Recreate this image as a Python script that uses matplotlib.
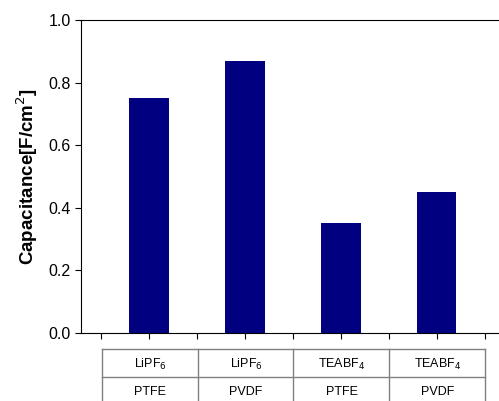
import matplotlib.pyplot as plt

plt.rcParams["font.family"] = ["Liberation Sans", "DejaVu Sans"]

electrolytes = ["LiPF$_6$", "LiPF$_6$", "TEABF$_4$", "TEABF$_4$"]
binders = ["PTFE", "PVDF", "PTFE", "PVDF"]
capacitance = [0.75, 0.87, 0.35, 0.45]
yticks = [0.0, 0.2, 0.4, 0.6, 0.8, 1.0]


def main():
    fig = plt.figure(figsize=(4.99, 4.01), dpi=100)
    W, H = 499, 401
    ax = fig.add_axes([81 / W, 1 - 333 / H, 1 - 81 / W + 0.01, 313 / H])

    x = range(len(capacitance))
    ax.bar(x, capacitance, width=0.41, color="#000080")
    ax.set_xlim(-0.708, 3.70)
    ax.set_ylim(0, 1.0)
    ax.set_yticks(yticks)
    ax.set_yticklabels([f"{v:.1f}" for v in yticks], fontsize=11.5)
    ax.set_xticks([i * 0.5 - 0.5 for i in range(9)])
    ax.set_xticklabels([])
    ax.tick_params(direction="out", length=4, width=0.8)
    ax.spines["right"].set_visible(False)
    ax.set_ylabel("Capacitance[F/cm$^2$]", fontsize=13.5, fontweight="bold", labelpad=6)

    # table under the axis
    grey = "#808080"
    xl, xr = 102 / W, 485 / W
    y0, y1, y2 = 1 - 349 / H, 1 - 377 / H, -0.02
    for yy in (y0, y1):
        fig.add_artist(plt.Line2D([xl, xr], [yy, yy], color=grey, lw=1, transform=fig.transFigure))
    for xx in (102, 198, 293, 389, 485):
        fig.add_artist(plt.Line2D([xx / W, xx / W], [y0, y2], color=grey, lw=1, transform=fig.transFigure))
    for i in range(len(capacitance)):
        cx = (150 + 96 * i) / W
        fig.text(cx, 1 - 364 / H, electrolytes[i], ha="center", va="center", fontsize=9)
        fig.text(cx, 1 - 392 / H, binders[i], ha="center", va="center", fontsize=9)

    fig.savefig("out.png", dpi=100)


if __name__ == "__main__":
    main()
